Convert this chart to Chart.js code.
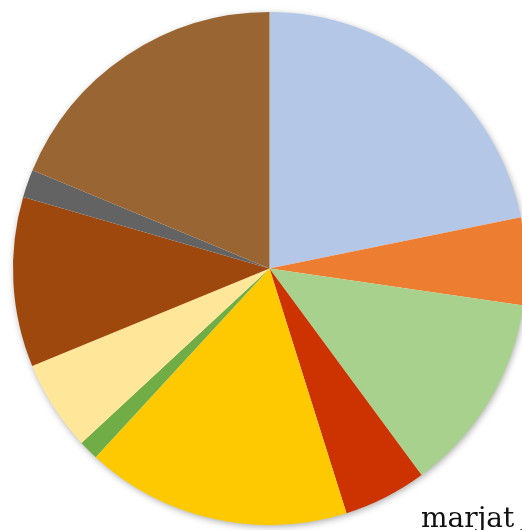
<!DOCTYPE html>
<html>
<head>
<meta charset="utf-8">
<script src="https://cdn.jsdelivr.net/npm/chart.js@4/dist/chart.umd.min.js"></script>
<style>
  html, body { margin: 0; padding: 0; background: #ffffff; overflow: hidden; width: 522px; height: 530px; }
  #wrap { position: absolute; left: 4.5px; top: 4px; width: 529px; height: 529px; }
</style>
</head>
<body>
<div id="wrap"><canvas id="c"></canvas></div>
<script>
// Data (share of the whole, %)
const categories = ["1", "2", "3", "4", "5", "6", "7", "8", "9", "10"];
const values = [21.8, 5.5, 12.6, 5.25, 16.7, 1.25, 5.7, 10.7, 1.75, 18.75];
const colors = ["#B4C7E7", "#ED7D31", "#A9D18E", "#CC3300", "#FFC900", "#70AD47", "#FFE699", "#9E480E", "#636363", "#996633"];
const cutLabel = "marjat ja";

const shadowPlugin = {
  id: 'pieShadow',
  beforeDatasetsDraw(chart) {
    const arc = chart.getDatasetMeta(0).data[0];
    if (!arc) return;
    const ctx = chart.ctx;
    ctx.save();
    ctx.shadowColor = 'rgba(0,0,0,0.35)';
    ctx.shadowBlur = 7;
    ctx.shadowOffsetX = 1;
    ctx.shadowOffsetY = 2;
    ctx.fillStyle = '#ffffff';
    ctx.beginPath();
    ctx.arc(arc.x, arc.y, arc.outerRadius - 0.5, 0, Math.PI * 2);
    ctx.fill();
    ctx.restore();
  },
  afterDraw(chart) {
    const ctx = chart.ctx;
    ctx.save();
    ctx.font = '28px "DejaVu Serif"';
    ctx.fillStyle = '#111111';
    ctx.textBaseline = 'alphabetic';
    ctx.textAlign = 'left';
    ctx.fillText(cutLabel, 416, 523);
    ctx.restore();
  }
};

new Chart(document.getElementById('c'), {
  type: 'pie',
  data: {
    labels: categories,
    datasets: [{
      data: values,
      backgroundColor: colors,
      borderWidth: 0
    }]
  },
  options: {
    responsive: true,
    maintainAspectRatio: false,
    animation: false,
    layout: { padding: 8 },
    plugins: {
      legend: { display: false },
      tooltip: { enabled: false },
      title: { display: false }
    }
  },
  plugins: [shadowPlugin]
});
</script>
</body>
</html>
